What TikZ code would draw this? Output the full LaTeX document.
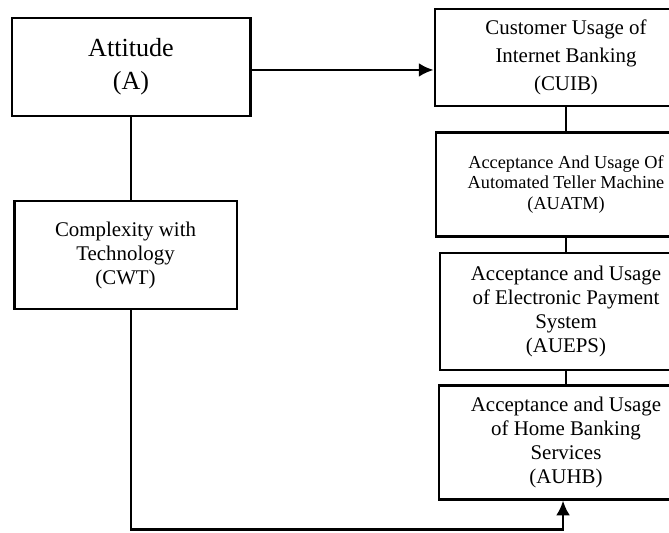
\documentclass[tikz,border=0pt]{standalone}
\usepackage{fontspec}
\setmainfont{Liberation Serif}
\usetikzlibrary{arrows.meta, positioning, calc}

\begin{document}
\begin{tikzpicture}[
  font=\fontsize{12}{13.8}\selectfont,
  box/.style={
    draw, line width=1.6pt, align=center, inner sep=2pt
  },
  bigbox/.style={box, font=\fontsize{15}{19}\selectfont},
  smallbox/.style={box, font=\fontsize{10.5}{11.8}\selectfont},
  link/.style={line width=1.6pt},
  arr/.style={link, -{Latex[length=8.5pt, width=8pt]}}
]
  \useasboundingbox (0,0) rectangle (13.51,-10.75);

  \node[bigbox, minimum width=4.81cm, minimum height=1.98cm] (att) at (2.646,-1.353)
    {Attitude\\(A)};
  \node[box, minimum width=4.50cm, minimum height=2.18cm] (cwt) at (2.535,-5.15)
    {Complexity with\\Technology\\(CWT)};

  \node[box, font=\fontsize{12}{16}\selectfont, minimum width=5.29cm, minimum height=1.96cm]
    (cuib) at (11.43,-1.16) {Customer Usage of\\Internet Banking\\(CUIB)};
  \node[smallbox, minimum width=5.25cm, minimum height=2.10cm] (auatm) at (11.43,-3.72)
    {Acceptance And Usage Of\\Automated Teller Machine\\(AUATM)};
  \node[box, minimum width=5.09cm, minimum height=2.36cm] (aueps) at (11.43,-6.29)
    {Acceptance and Usage\\of Electronic Payment\\System\\(AUEPS)};
  \node[box, minimum width=5.13cm, minimum height=2.30cm] (auhb) at (11.43,-8.93)
    {Acceptance and Usage\\of Home Banking\\Services\\(AUHB)};

  % connector ends
  \coordinate (attout) at ($(att.east)+(0,-0.06)$);
  \coordinate (low) at (2.646,-10.69);
  \coordinate (auhbin) at ($(auhb.south)+(-0.06,0)$);

  \draw[arr] (attout) -- (attout -| cuib.west);
  \draw[link] (att.south) -- (att.south |- cwt.north);
  \draw[link] (cuib) -- (auatm);
  \draw[link] (auatm) -- (aueps);
  \draw[link] (aueps) -- (auhb);
  \draw[arr] (low |- cwt.south) -- (low) -| (auhbin);
\end{tikzpicture}
\end{document}
